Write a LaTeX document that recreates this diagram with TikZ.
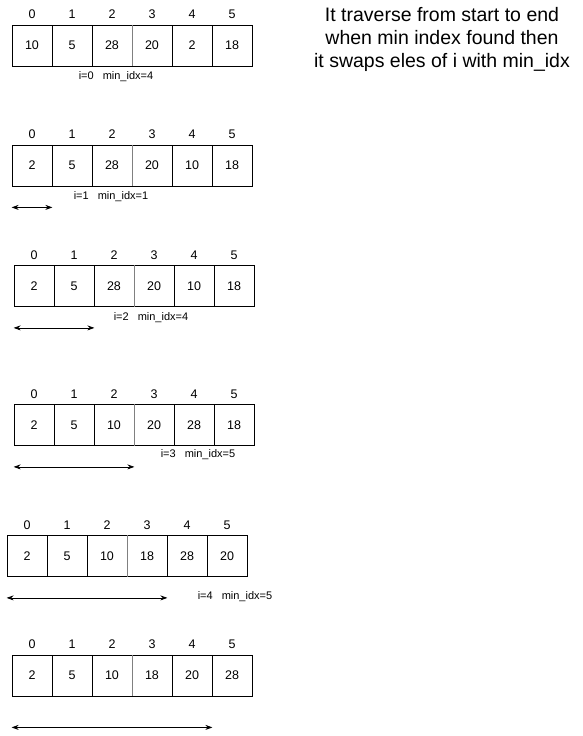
\documentclass[tikz,border=0pt]{standalone}
\usepackage{fontspec}
\setmainfont{Liberation Sans}
\usetikzlibrary{arrows.meta}

\begin{document}
\begin{tikzpicture}[x=1pt, y=-1pt,
    cell/.style = {draw, line width=0.8pt, minimum width=40pt, minimum height=41pt, inner sep=0pt, font=\fontsize{12.5}{14}\selectfont},
    idx/.style = {inner sep=0pt, font=\fontsize{12.5}{14}\selectfont},
    passnote/.style = {inner sep=0pt, font=\fontsize{11}{13}\selectfont},
    divider/.style = {draw=gray, line width=1.3pt},
    span/.style = {{Stealth[length=7pt, width=5pt]}-{Stealth[length=7pt, width=5pt]}, line width=0.8pt}]
    \useasboundingbox (0,0) rectangle (582,736);

    % the six passes of the array
    \foreach \r/\xo/\yc/\vals in {1/12/45.5/{10,5,28,20,2,18}, 2/12/165.5/{2,5,28,20,10,18},
        3/14/286/{2,5,28,20,10,18}, 4/14/425/{2,5,10,20,28,18},
        5/7/556/{2,5,10,18,28,20}, 6/12/675.5/{2,5,10,18,20,28}} {
        \foreach \v [count=\k from 0] in \vals {
            \node[cell] (r\r c\k) at (\xo+20+40*\k, \yc) {\v};
            \node[idx, yshift=10pt] (r\r i\k) at (r\r c\k.north) {\k};
        }
        \draw[divider] (r\r c2.north east) -- (r\r c2.south east);
    }

    \node[passnote] (n1) at (116,77) {i=0\hspace{9pt}min\_idx=4};
    \node[passnote] (n2) at (111,197) {i=1\hspace{9pt}min\_idx=1};
    \node[passnote] (n3) at (151,318) {i=2\hspace{9pt}min\_idx=4};
    \node[passnote] (n4) at (198,455) {i=3\hspace{9pt}min\_idx=5};
    \node[passnote] (n5) at (235,597) {i=4\hspace{9pt}min\_idx=5};

    % sorted part so far
    \draw[span] ([yshift=-21pt]r2c0.south west) -- ([yshift=-21pt]r2c0.south east);
    \draw[span] ([yshift=-21pt]r3c0.south west) -- ([yshift=-21pt]r3c1.south east);
    \draw[span] ([yshift=-21pt]r4c0.south west) -- ([yshift=-21pt]r4c2.south east);
    \draw[span] ([yshift=-21pt]r5c0.south west) -- ([yshift=-21pt]r5c3.south east);
    \draw[span] ([yshift=-31pt]r6c0.south west) -- ([yshift=-31pt]r6c4.south east);

    \node[align=center, font=\fontsize{19.5}{23}\selectfont] (title) at (442,39)
        {It traverse from start to end\\when min index found then\\it swaps eles of i with min\_idx};
\end{tikzpicture}
\end{document}
